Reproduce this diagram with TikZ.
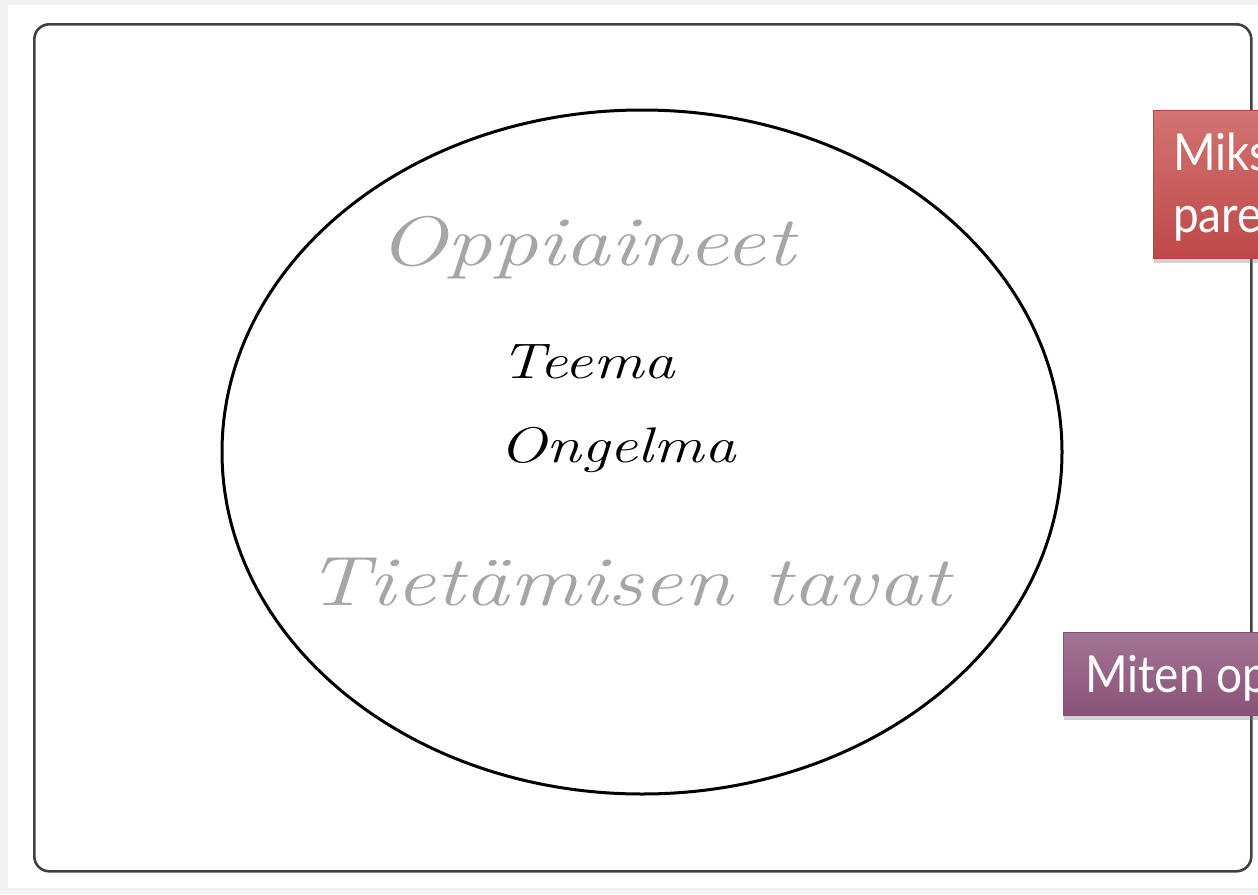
\documentclass[tikz,border=0pt]{standalone}
\usepackage{fontspec}
\newfontfamily\gill{Lato}
\usetikzlibrary{shadows,shapes.geometric}
\definecolor{bggray}{HTML}{F2F2F2}
\definecolor{framegray}{HTML}{404040}
\definecolor{lightgray}{HTML}{A6A6A6}
\definecolor{redtop}{HTML}{D27472}
\definecolor{redbot}{HTML}{BE4848}
\definecolor{redline}{HTML}{B64646}
\definecolor{purtop}{HTML}{A37494}
\definecolor{purbot}{HTML}{8A5278}
\definecolor{purline}{HTML}{84506F}
\tikzset{
  hand/.style={font=\itshape, transform shape, anchor=base west, inner sep=0pt},
  bigword/.style={hand, xscale=1.3, font=\fontsize{70}{80}\selectfont\itshape, text=lightgray},
  smallword/.style={hand, xscale=1.26, font=\fontsize{50}{58}\selectfont\itshape, text=black},
  callout/.style={rectangle, draw, line width=0.8pt, anchor=north west, inner sep=0pt,
    drop shadow={opacity=0.35, shadow xshift=1pt, shadow yshift=-5pt}},
  boxtext/.style={font=\gill\fontsize{51}{60}\selectfont, transform shape, xscale=0.9, text=white, anchor=base west, inner sep=0pt}
}
\begin{document}
\begin{tikzpicture}[x=1pt,y=-1pt]
\useasboundingbox (0,0) rectangle (1258,894);
\fill[bggray] (0,0) rectangle (1258,894);
\fill[white] (8,5) rectangle (1258,888);
\node[draw=framegray, line width=2.6pt, rounded corners=15pt, minimum width=1217pt, minimum height=847pt, inner sep=0pt, anchor=north west] (frame) at (33,23) {};
\node[draw=black, line width=3pt, ellipse, minimum width=840pt, minimum height=684pt, inner sep=0pt] (oval) at (642,452) {};
\node[bigword] (opp) at (378,265) {Oppiaineet};
\node[smallword] (teema) at (500,378) {Teema};
\node[smallword] (ong) at (499,462) {Ongelma};
\node[bigword, xscale=0.98] (tiet) at (306,605) {Tietämisen tavat};
\node[callout, draw=redline, top color=redtop, bottom color=redbot, minimum width=300pt, minimum height=148pt] (miks) at (1153,110) {};
\node[boxtext] (miks1) at (1173,170) {Miks};
\node[boxtext] (miks2) at (1173,232) {pare};
\node[callout, draw=purline, top color=purtop, bottom color=purbot, minimum width=300pt, minimum height=83pt] (miten) at (1063,632) {};
\node[boxtext] (miten1) at (1085,692) {Miten op};
\end{tikzpicture}
\end{document}
